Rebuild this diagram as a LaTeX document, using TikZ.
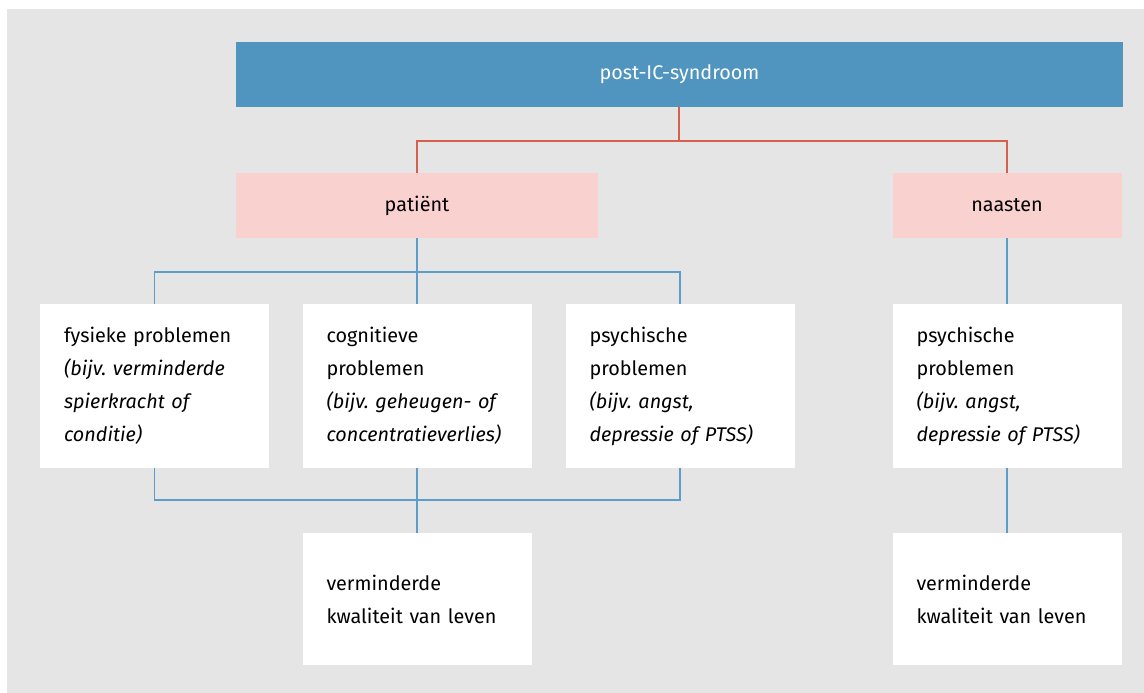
\documentclass[tikz,border=0pt]{standalone}
\usepackage{fontspec}
\setmainfont{Fira Sans}
\usepackage{tikz}
\usetikzlibrary{positioning}
\definecolor{bg}{RGB}{229,229,229}
\definecolor{head}{RGB}{79,149,191}
\definecolor{rose}{RGB}{249,210,208}
\definecolor{redln}{RGB}{214,96,78}
\definecolor{blueln}{RGB}{92,158,201}
\newcommand\boxfont{\fontsize{19.8}{33}\selectfont\frenchspacing\hyphenpenalty=10000\relax}

\begin{document}
\begin{tikzpicture}[
  x=1pt,y=-1pt,
  font=\boxfont,
  top/.style={fill=head,text=white,minimum width=887pt,minimum height=65pt,inner sep=0pt},
  grp/.style={fill=rose,minimum height=65pt,inner sep=0pt},
  item/.style={fill=white,align=left,text width=181pt,inner xsep=24pt,inner ysep=0pt,minimum height=164pt},
  res/.style={item,minimum height=132pt},
  rl/.style={draw=redln,line width=1.2pt},
  bl/.style={draw=blueln,line width=1.2pt}]
\fill[bg] (7,9) rectangle (1144,693);
\useasboundingbox (0,0) rectangle (1144,693);
\node[top] (syn) at (679.5,74.5) {post-IC-syndroom};
\node[grp,minimum width=362pt] (pat) at (417,205.5) {patiënt};
\node[grp,minimum width=229pt] (naa) at (1007,205.5) {naasten};
\node[item] (fys) at (154.5,386) {fysieke problemen\\\textit{(bijv. verminderde\\spierkracht of\\conditie)}};
\node[item] (cog) at (417,386) {cognitieve\\problemen\\\textit{(bijv. geheugen- of\\concentratieverlies)}};
\node[item] (psy) at (680,386) {psychische\\problemen\\\textit{(bijv. angst,\\depressie of PTSS)}};
\node[item] (psn) at (1007,386) {psychische\\problemen\\\textit{(bijv. angst,\\depressie of PTSS)}};
\node[res] (kwp) at (417,599) {verminderde\\kwaliteit van leven};
\node[res] (kwn) at (1007,599) {verminderde\\kwaliteit van leven};
% lijnen
\coordinate (r) at (679,141);
\coordinate (b1) at (417,272);
\coordinate (b2) at (417,500);
\draw[rl] (syn.south -| r) -- (r);
\draw[rl] (pat.north) |- (r) -| (naa.north);
\draw[bl] (pat.south) -- (b1);
\draw[bl] (fys.north) |- (b1) -| (psy.north); \draw[bl] (b1) -- (cog.north);
\draw[bl] (fys.south) |- (b2) -| (psy.south); \draw[bl] (cog.south) -- (kwp.north);
\draw[bl] (naa.south) -- (psn.north); \draw[bl] (psn.south) -- (kwn.north);
\end{tikzpicture}
\end{document}
